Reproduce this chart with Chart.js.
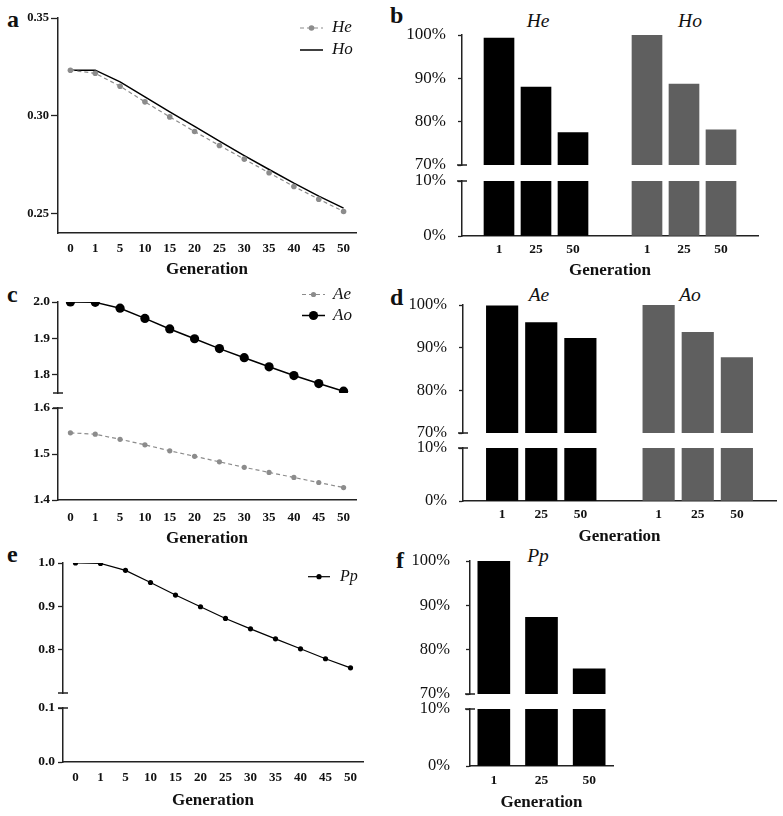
<!DOCTYPE html>
<html><head><meta charset="utf-8">
<script src="https://cdn.jsdelivr.net/npm/chart.js@4/dist/chart.umd.min.js"></script>
<style>
html,body{margin:0;padding:0;background:#fff;}
#wrap{position:relative;width:783px;height:816px;overflow:hidden;background:#fff;}
#wrap canvas{position:absolute;}
.lbl{position:absolute;font-family:'Liberation Serif','Times New Roman',Times,serif;color:#111;white-space:nowrap;line-height:1;}
.pl{font-weight:bold;font-size:24px;}
.gt{font-style:italic;font-size:19.5px;transform:translateX(-50%);}
</style></head><body><div id="wrap">
<div class="lbl pl" style="left:7px;top:7px">a</div>
<div class="lbl pl" style="left:390px;top:3px">b</div>
<div class="lbl pl" style="left:7px;top:282px">c</div>
<div class="lbl pl" style="left:390px;top:285px">d</div>
<div class="lbl pl" style="left:7px;top:542px">e</div>
<div class="lbl pl" style="left:396px;top:548px">f</div>
<div class="lbl gt" style="left:538px;top:10.5px">He</div>
<div class="lbl gt" style="left:690px;top:10.5px">Ho</div>
<div class="lbl gt" style="left:539px;top:284.5px">Ae</div>
<div class="lbl gt" style="left:690px;top:284.5px">Ao</div>
<div class="lbl gt" style="left:538px;top:545.5px">Pp</div>
</div>
<script>
// ---------------- data ----------------
const generations = ['0','1','5','10','15','20','25','30','35','40','45','50'];
const heValues = [0.3233,0.3217,0.3151,0.3071,0.2994,0.2919,0.2848,0.2778,0.2708,0.2638,0.2573,0.2510];
const hoValues = [0.3233,0.3233,0.3173,0.3096,0.3020,0.2946,0.2870,0.2796,0.2725,0.2655,0.2589,0.2527];
const aeValues = [1.546,1.543,1.532,1.520,1.507,1.495,1.483,1.471,1.460,1.449,1.438,1.427];
const aoValues = [2.000,1.999,1.983,1.955,1.926,1.899,1.872,1.847,1.822,1.798,1.776,1.755];
const ppValues = [1.000,0.999,0.983,0.955,0.926,0.899,0.872,0.848,0.825,0.802,0.779,0.758];

const barGenerations = ['1','25','50'];
const heRetained = [99.3,88.0,77.5];
const hoRetained = [100.0,88.7,78.1];
const aeRetained = [99.8,95.9,92.2];
const aoRetained = [99.9,93.6,87.7];
const ppRetained = [100.0,87.3,75.7];

const ticksA = [0.25,0.30,0.35];
const ticksCTop = [1.8,1.9,2.0];
const ticksCBottom = [1.4,1.5,1.6];
const ticksETop = [0.8,0.9,1.0];
const ticksEBottom = [0.0,0.1];
const pctTop = [70,80,90,100];
const pctBottom = [0,10];

// ---------------- style ----------------
const AXIS = '#222', INK = '#111', GREY = '#8c8c8c', BARGREY = '#5f5f5f';
const SERIF = "'Liberation Serif','Times New Roman',Times,serif";
Chart.defaults.font.family = SERIF;
Chart.defaults.color = INK;

const wrap = document.getElementById('wrap');
function makeCanvas(r){
  const c = document.createElement('canvas');
  c.width = r.w; c.height = r.h;
  c.style.left = r.x + 'px'; c.style.top = r.y + 'px';
  c.style.width = r.w + 'px'; c.style.height = r.h + 'px';
  wrap.appendChild(c);
  return c;
}

// legend drawn with the datasets' own styles
const lineKey = {
  id: 'lineKey',
  afterDraw(chart, args, o){
    if (!o || !o.show) return;
    const {ctx, chartArea} = chart;
    chart.data.datasets.forEach((ds, i) => {
      const y = chartArea.top + o.dy + i * o.gap;
      const x0 = chartArea.right + o.dx;
      ctx.save();
      ctx.strokeStyle = ds.borderColor; ctx.lineWidth = ds.borderWidth;
      ctx.setLineDash(ds.borderDash || []);
      ctx.beginPath(); ctx.moveTo(x0, y); ctx.lineTo(x0 + o.len, y); ctx.stroke();
      ctx.setLineDash([]);
      if (ds.pointRadius > 0){
        ctx.fillStyle = ds.pointBackgroundColor;
        ctx.beginPath(); ctx.arc(x0 + o.len/2, y, ds.pointRadius, 0, Math.PI*2); ctx.fill();
      }
      ctx.fillStyle = INK; ctx.font = 'italic ' + o.size + 'px ' + SERIF;
      ctx.textBaseline = 'middle'; ctx.textAlign = 'left';
      ctx.fillText(ds.label, x0 + o.textDx, y);
      ctx.restore();
    });
  }
};
// short caps at the ends of a broken axis
const breakCap = {
  id: 'breakCap',
  afterDraw(chart, args, o){
    if (!o || (!o.top && !o.bottom)) return;
    const {ctx, chartArea} = chart;
    const x = Math.round(chartArea.left);
    ctx.save(); ctx.strokeStyle = AXIS; ctx.lineWidth = 1.5;
    const ys = [];
    if (o.top) ys.push(chartArea.top);
    if (o.bottom) ys.push(chartArea.bottom);
    ys.forEach(y => { ctx.beginPath(); ctx.moveTo(x - 5, y); ctx.lineTo(x + 5, y); ctx.stroke(); });
    ctx.restore();
  }
};

function yAxis(o){
  return {
    type: 'linear', min: o.min, max: o.max,
    afterBuildTicks: s => { s.ticks = o.ticks.map(v => ({value: v})); },
    afterFit: s => { s.width = o.width; },
    ticks: {callback: v => o.fmt(v), font: o.font, color: INK, padding: o.pad, autoSkip: false},
    grid: {display: true, drawOnChartArea: false, drawTicks: true, tickLength: o.tickLen, tickColor: AXIS, tickWidth: 1.3},
    border: {display: true, color: AXIS, width: 1.5}
  };
}
function xAxis(o){
  return {
    type: 'category', offset: o.offset, display: o.show,
    grid: {display: false, drawTicks: false},
    border: {display: true, color: AXIS, width: 1.5},
    ticks: {font: {size: o.fontSize, weight: 'bold'}, color: INK, padding: o.labelPad, maxRotation: 0, autoSkip: false},
    title: {display: true, text: 'Generation', color: INK, font: {size: 17, weight: 'bold'}, padding: {top: 0, bottom: o.titlePad}},
    afterFit: s => { s.height = o.show ? o.height : 0; }
  };
}
function build(spec){
  const r = spec.rect, a = spec.area;
  const c = makeCanvas(r);
  const below = r.y + r.h - a.b;
  return new Chart(c, {
    type: spec.type,
    data: {labels: spec.labels, datasets: spec.datasets},
    options: {
      responsive: false, animation: false, devicePixelRatio: 1, events: [],
      layout: {padding: {left: 0, top: a.t - r.y, right: r.x + r.w - a.r, bottom: spec.showX ? 0 : below}},
      plugins: {legend: {display: false}, tooltip: {enabled: false},
        lineKey: spec.key || {show: false}, breakCap: spec.cap || {}},
      scales: {
        x: xAxis(Object.assign({}, spec.x, {show: spec.showX, height: below})),
        y: yAxis(Object.assign({}, spec.y, {width: a.l - r.x}))
      }
    },
    plugins: [lineKey, breakCap]
  });
}

// dataset factories
const heDS = () => ({label: 'He', data: [...heValues], borderColor: GREY, backgroundColor: GREY, pointBackgroundColor: GREY,
  pointBorderWidth: 0, borderWidth: 1.2, borderDash: [4,3], pointRadius: 2.8, tension: 0});
const hoDS = () => ({label: 'Ho', data: [...hoValues], borderColor: '#000', backgroundColor: '#000', pointBackgroundColor: '#000',
  pointBorderWidth: 0, borderWidth: 1.5, pointRadius: 0, tension: 0});
const aeDS = () => ({label: 'Ae', data: [...aeValues], borderColor: GREY, backgroundColor: GREY, pointBackgroundColor: GREY,
  pointBorderWidth: 0, borderWidth: 1.2, borderDash: [4,3], pointRadius: 2.6, tension: 0});
const aoDS = () => ({label: 'Ao', data: [...aoValues], borderColor: '#000', backgroundColor: '#000', pointBackgroundColor: '#000',
  pointBorderWidth: 0, borderWidth: 1.5, pointRadius: 4.6, tension: 0});
const ppDS = () => ({label: 'Pp', data: [...ppValues], borderColor: '#000', backgroundColor: '#000', pointBackgroundColor: '#000',
  pointBorderWidth: 0, borderWidth: 1.2, pointRadius: 2.6, tension: 0});

const fmt2 = v => v.toFixed(2), fmt1 = v => v.toFixed(1), pct = v => v + '%';
const lineYFontA = {size: 12.5, weight: 'bold'};
const lineYFontC = {size: 13.5, weight: 'bold'};

// ---- panel a ----
build({type: 'line', labels: generations, datasets: [heDS(), hoDS()], showX: true,
  rect: {x: 0, y: 0, w: 390, h: 283}, area: {l: 58, r: 356, t: 18, b: 233},
  x: {offset: true, fontSize: 13, labelPad: 8.2, titlePad: 2.8},
  y: {min: 0.24, max: 0.35, ticks: ticksA, fmt: fmt2, font: lineYFontA, pad: 2, tickLen: 7},
  key: {show: true, dx: -56, dy: 10, gap: 22, len: 23, textDx: 32, size: 17}});

// ---- panel c ----
build({type: 'line', labels: generations, datasets: [aeDS(), aoDS()], showX: false,
  rect: {x: 0, y: 280, w: 390, h: 135}, area: {l: 58, r: 356, t: 302, b: 393},
  x: {offset: true, fontSize: 13, labelPad: 10.2, titlePad: 0.8},
  y: {min: 1.75, max: 2.0, ticks: ticksCTop, fmt: fmt1, font: lineYFontC, pad: 2, tickLen: 6},
  key: {show: true, dx: -54, dy: -7.5, gap: 21, len: 23, textDx: 31, size: 17},
  cap: {bottom: true}});
build({type: 'line', labels: generations, datasets: [aeDS(), aoDS()], showX: true,
  rect: {x: 0, y: 386, w: 390, h: 164}, area: {l: 58, r: 356, t: 408, b: 500},
  x: {offset: true, fontSize: 13, labelPad: 10.2, titlePad: 0.8},
  y: {min: 1.4, max: 1.6, ticks: ticksCBottom, fmt: fmt1, font: lineYFontC, pad: 2, tickLen: 6},
  cap: {top: true}});

// ---- panel e ----
build({type: 'line', labels: generations, datasets: [ppDS()], showX: false,
  rect: {x: 0, y: 546, w: 390, h: 164}, area: {l: 63, r: 363, t: 563, b: 693},
  x: {offset: true, fontSize: 13, labelPad: 7.9, titlePad: 0.8},
  y: {min: 0.7, max: 1.0, ticks: ticksETop, fmt: fmt1, font: lineYFontC, pad: 3, tickLen: 5},
  key: {show: true, dx: -55, dy: 13.7, gap: 22, len: 22, textDx: 32, size: 16},
  cap: {bottom: true}});
build({type: 'line', labels: generations, datasets: [ppDS()], showX: true,
  rect: {x: 0, y: 691, w: 390, h: 121}, area: {l: 63, r: 363, t: 708, b: 762},
  x: {offset: true, fontSize: 13, labelPad: 7.9, titlePad: 0.8},
  y: {min: 0.0, max: 0.1, ticks: ticksEBottom, fmt: fmt1, font: lineYFontC, pad: 3, tickLen: 5},
  cap: {top: true}});

// ---- bar panels ----
const pairLabels = ['', ...barGenerations, '', ...barGenerations, ''];
const leftGroup = vals => [null, ...vals, null, null, null, null, null];
const rightGroup = vals => [null, null, null, null, null, ...vals, null];
function barDS(label, data, color, thick){
  return {label, data, backgroundColor: color, borderWidth: 0, barThickness: thick, grouped: false, clip: 0};
}
function barPair(opts){
  const mkData = () => [
    barDS(opts.names[0], leftGroup(opts.vals[0]), '#000', opts.thick),
    barDS(opts.names[1], rightGroup(opts.vals[1]), BARGREY, opts.thick)
  ];
  const yFont = {size: opts.yFont};
  build({type: 'bar', labels: pairLabels, datasets: mkData(), showX: false,
    rect: opts.topRect, area: opts.topArea,
    x: {offset: false, fontSize: 13.5, labelPad: opts.labelPad, titlePad: opts.titlePad},
    y: {min: 70, max: 100, ticks: pctTop, fmt: pct, font: yFont, pad: opts.ypad, tickLen: 4},
    cap: {bottom: true}});
  build({type: 'bar', labels: pairLabels, datasets: mkData(), showX: true,
    rect: opts.botRect, area: opts.botArea,
    x: {offset: false, fontSize: 13.5, labelPad: opts.labelPad, titlePad: opts.titlePad},
    y: {min: 0, max: 10, ticks: pctBottom, fmt: pct, font: yFont, pad: opts.ypad, tickLen: 4},
    cap: {top: true}});
}

// panel b
barPair({names: ['He','Ho'], vals: [heRetained, hoRetained], thick: 30, yFont: 17, ypad: 12,
  labelPad: 5.9, titlePad: 4.8,
  topRect: {x: 390, y: 3, w: 393, h: 194}, topArea: {l: 462, r: 758, t: 35, b: 165},
  botRect: {x: 390, y: 149, w: 393, h: 137}, botArea: {l: 462, r: 758, t: 181, b: 236}});
// panel d
barPair({names: ['Ae','Ao'], vals: [aeRetained, aoRetained], thick: 31.5, yFont: 16.5, ypad: 12,
  labelPad: 5.9, titlePad: 3.8,
  topRect: {x: 390, y: 273, w: 393, h: 192}, topArea: {l: 463, r: 776, t: 305, b: 433},
  botRect: {x: 390, y: 416, w: 393, h: 135}, botArea: {l: 463, r: 776, t: 448, b: 501}});

// panel f
function ppBars(){ return [barDS('Pp', [...ppRetained], '#000', 32)]; }
build({type: 'bar', labels: barGenerations, datasets: ppBars(), showX: false,
  rect: {x: 390, y: 529, w: 393, h: 197}, area: {l: 470, r: 613, t: 561, b: 694},
  x: {offset: true, fontSize: 13.5, labelPad: 6.4, titlePad: 2.8},
  y: {min: 70, max: 100, ticks: pctTop, fmt: pct, font: {size: 16.5}, pad: 16, tickLen: 4},
  cap: {bottom: true}});
build({type: 'bar', labels: barGenerations, datasets: ppBars(), showX: true,
  rect: {x: 390, y: 677, w: 393, h: 139}, area: {l: 470, r: 613, t: 709, b: 766},
  x: {offset: true, fontSize: 13.5, labelPad: 6.4, titlePad: 2.8},
  y: {min: 0, max: 10, ticks: pctBottom, fmt: pct, font: {size: 16.5}, pad: 16, tickLen: 4},
  cap: {top: true}});
</script>
</body></html>
